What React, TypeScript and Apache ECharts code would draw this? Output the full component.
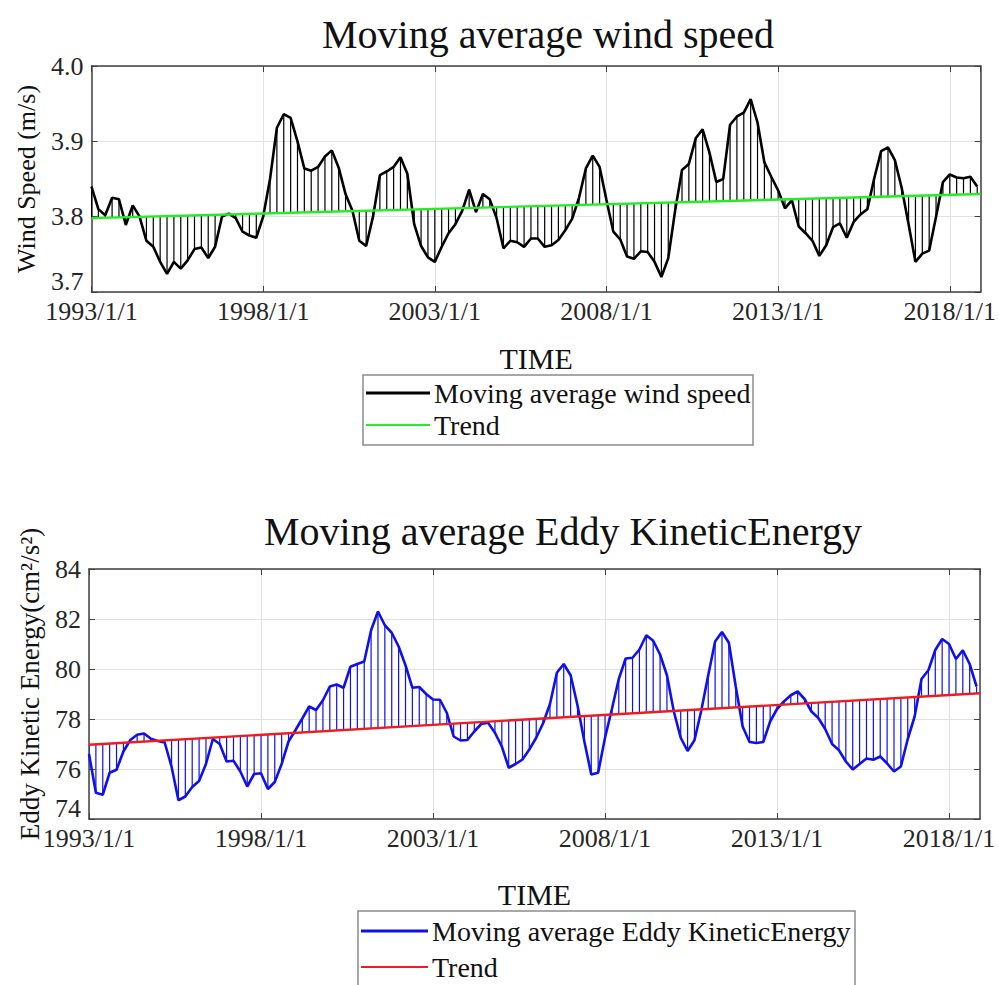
import React, { useEffect, useRef } from "react";
import * as echarts from "echarts";

// Time axis: years since 1993/1/1, one sample every 0.2 year
const START_YEAR = 1993;
const STEP_YEARS = 0.2;
const X_MAX = 25.9;
const X_TICK_YEARS = 5;
const TIME_TICK_LABELS = ["1993/1/1", "1998/1/1", "2003/1/1", "2008/1/1", "2013/1/1", "2018/1/1"];

// Moving average wind speed (m/s)
const WIND_SPEED = [
  3.84, 3.81, 3.802, 3.825, 3.823, 3.789, 3.815, 3.8, 3.768, 3.76,
  3.74, 3.724, 3.74, 3.731, 3.742, 3.757, 3.759, 3.745, 3.76, 3.8,
  3.804, 3.798, 3.78, 3.775, 3.772, 3.8, 3.85, 3.918, 3.936, 3.931,
  3.9, 3.864, 3.861, 3.866, 3.88, 3.888, 3.865, 3.83, 3.808, 3.768,
  3.761, 3.8, 3.855, 3.86, 3.866, 3.879, 3.857, 3.79, 3.761, 3.746,
  3.74, 3.76, 3.778, 3.79, 3.808, 3.836, 3.806, 3.83, 3.823, 3.798,
  3.758, 3.768, 3.766, 3.76, 3.771, 3.771, 3.76, 3.762, 3.769, 3.782,
  3.797, 3.825, 3.864, 3.881, 3.866, 3.822, 3.78, 3.77, 3.747, 3.744,
  3.754, 3.753, 3.74, 3.72, 3.745, 3.808, 3.862, 3.87, 3.904, 3.916,
  3.885, 3.846, 3.85, 3.922, 3.933, 3.938, 3.956, 3.925, 3.872, 3.853,
  3.835, 3.811, 3.822, 3.787, 3.778, 3.768, 3.748, 3.762, 3.786, 3.791,
  3.772, 3.793, 3.803, 3.81, 3.851, 3.887, 3.892, 3.875, 3.838, 3.79,
  3.74, 3.751, 3.755, 3.8, 3.846, 3.856, 3.852, 3.851, 3.853, 3.84,
];
// Linear trend of wind speed at the start and end of the time axis
const WIND_TREND = [3.798, 3.83];

// Moving average eddy kinetic energy (cm²/s²)
const EKE = [
  76.6, 75.05, 74.97, 75.85, 75.97, 76.7, 77.16, 77.37, 77.42, 77.21,
  77.12, 77.06, 76.09, 74.75, 74.9, 75.28, 75.52, 76.2, 77.2, 77.0,
  76.3, 76.33, 75.9, 75.3, 75.8, 75.83, 75.2, 75.48, 76.2, 77.1,
  77.55, 78.02, 78.5, 78.36, 78.75, 79.3, 79.38, 79.25, 80.09, 80.2,
  80.3, 81.55, 82.3, 81.75, 81.45, 80.9, 80.15, 79.25, 79.28, 79.0,
  78.78, 78.77, 78.25, 77.3, 77.14, 77.16, 77.5, 77.8, 77.85, 77.45,
  76.9, 76.05, 76.2, 76.38, 76.78, 77.25, 77.83, 78.6, 79.85, 80.2,
  79.75, 78.55, 77.1, 75.78, 75.85, 77.25, 78.4, 79.6, 80.42, 80.45,
  80.78, 81.35, 81.13, 80.58, 79.75, 78.3, 77.25, 76.72, 77.15, 78.35,
  79.75, 81.1, 81.48, 81.05, 79.3, 77.7, 77.08, 77.04, 77.08, 77.9,
  78.4, 78.7, 78.95, 79.1, 78.8, 78.3, 78.04, 77.6, 77.0, 76.75,
  76.3, 75.98, 76.2, 76.42, 76.37, 76.5, 76.22, 75.9, 76.1, 77.2,
  78.1, 79.6, 79.95, 80.76, 81.2, 81.0, 80.4, 80.75, 80.2, 79.3,
];
// Linear trend of eddy kinetic energy at the start and end of the time axis
const EKE_TREND = [76.97, 79.03];

const FONT = "'Liberation Serif', 'Times New Roman', serif";
const AXIS_COLOR = "#404040";
const GRID_COLOR = "#e2e2e2";
const TEXT_COLOR = "#262626";

type Panel = {
  title: string;
  titleX: number;
  titleTop: number;
  grid: { left: number; top: number; width: number; height: number };
  yMin: number;
  yMax: number;
  yStep: number;
  yDigits: number;
  yName: string;
  yNameGap: number;
  yNameSize: number;
  yNamePadding: number[];
  xNameGap: number;
  values: number[];
  trend: number[];
  name: string;
  lineColor: string;
  trendColor: string;
};

const PANELS: Panel[] = [
  {
    title: "Moving average wind speed",
    titleX: 548,
    titleTop: 14,
    grid: { left: 91.5, top: 66, width: 889.5, height: 226 },
    yMin: 3.7,
    yMax: 4.0,
    yStep: 0.1,
    yDigits: 1,
    yName: "Wind Speed (m/s)",
    yNameGap: 52,
    yNameSize: 26,
    yNamePadding: [0, 0, 0, 0],
    xNameGap: 51,
    values: WIND_SPEED,
    trend: WIND_TREND,
    name: "Moving average wind speed",
    lineColor: "#000000",
    trendColor: "#22ee22",
  },
  {
    title: "Moving average Eddy KineticEnergy",
    titleX: 563,
    titleTop: 511,
    grid: { left: 89, top: 569, width: 891, height: 250 },
    yMin: 74,
    yMax: 84,
    yStep: 2,
    yDigits: 0,
    yName: "Eddy Kinetic Energy(cm²/s²)",
    yNameGap: 46,
    yNameSize: 27,
    yNamePadding: [0, 0, 0, 20],
    xNameGap: 60,
    values: EKE,
    trend: EKE_TREND,
    name: "Moving average Eddy KineticEnergy",
    lineColor: "#1010e8",
    trendColor: "#ee1c1c",
  },
];

const trendAt = (trend: number[], x: number) => trend[0] + ((trend[1] - trend[0]) * x) / X_MAX;

function buildOption() {
  const grids: any[] = [];
  const xAxes: any[] = [];
  const yAxes: any[] = [];
  const series: any[] = [];
  const titles: any[] = [];

  PANELS.forEach((p, gi) => {
    grids.push({ ...p.grid, containLabel: false });
    titles.push({
      text: p.title,
      left: p.titleX,
      top: p.titleTop,
      textAlign: "center",
      padding: 0,
      textStyle: { fontFamily: FONT, fontSize: 40, fontWeight: "normal", color: "#111" },
    });

    const axisLine = { show: true, onZero: false, lineStyle: { color: AXIS_COLOR, width: 1.5 } };
    const axisTick = { show: true, inside: true, length: 6, lineStyle: { color: AXIS_COLOR, width: 1 } };
    const xBase = { type: "value", gridIndex: gi, min: 0, max: X_MAX, interval: X_TICK_YEARS };
    xAxes.push({
      ...xBase,
      position: "bottom",
      name: "TIME",
      nameLocation: "middle",
      nameGap: p.xNameGap,
      nameTextStyle: { fontFamily: FONT, fontSize: 30, color: "#111" },
      axisLine,
      axisTick,
      axisLabel: {
        fontFamily: FONT,
        fontSize: 26,
        color: TEXT_COLOR,
        margin: 6,
        showMaxLabel: false,
        formatter: (v: number) => TIME_TICK_LABELS[Math.round(v / X_TICK_YEARS)] ?? "",
      },
      splitLine: { show: true, lineStyle: { color: GRID_COLOR, width: 1 } },
    });
    xAxes.push({
      ...xBase,
      position: "top",
      axisLine,
      axisTick,
      axisLabel: { show: false },
      splitLine: { show: false },
    });

    const yBase = { type: "value", gridIndex: gi, min: p.yMin, max: p.yMax, interval: p.yStep };
    yAxes.push({
      ...yBase,
      position: "left",
      name: p.yName,
      nameLocation: "middle",
      nameGap: p.yNameGap,
      nameTextStyle: { fontFamily: FONT, fontSize: p.yNameSize, color: "#111", padding: p.yNamePadding },
      axisLine,
      axisTick,
      axisLabel: {
        fontFamily: FONT,
        fontSize: 26,
        color: TEXT_COLOR,
        margin: 8,
        // lowest label sits a little above the corner so it clears the first date
        formatter: (v: number) =>
          Math.abs(v - p.yMin) < 1e-9 ? `{lo|${v.toFixed(p.yDigits)}}` : v.toFixed(p.yDigits),
        rich: {
          lo: { fontFamily: FONT, fontSize: 26, color: TEXT_COLOR, padding: [0, 0, 22, 0] },
        },
      },
      splitLine: { show: true, lineStyle: { color: GRID_COLOR, width: 1 } },
    });
    yAxes.push({
      ...yBase,
      position: "right",
      axisLine,
      axisTick,
      axisLabel: { show: false },
      splitLine: { show: false },
    });

    const xIdx = gi * 2;
    const yIdx = gi * 2;
    const points = p.values.map((v, i) => [i * STEP_YEARS, v]);
    const hatch = points.map(([x, v]) => [x, v, trendAt(p.trend, x)]);

    // vertical hatching between the series and its trend
    series.push({
      type: "custom",
      xAxisIndex: xIdx,
      yAxisIndex: yIdx,
      clip: true,
      silent: true,
      encode: { x: 0, y: [1, 2] },
      data: hatch,
      z: 1,
      renderItem: (_params: any, api: any) => {
        const x = api.value(0);
        const a = api.coord([x, api.value(1)]);
        const b = api.coord([x, api.value(2)]);
        return {
          type: "line",
          shape: { x1: a[0], y1: a[1], x2: b[0], y2: b[1] },
          style: { stroke: p.lineColor, lineWidth: 1.2 },
        };
      },
    });
    series.push({
      type: "line",
      name: p.name,
      xAxisIndex: xIdx,
      yAxisIndex: yIdx,
      data: points,
      showSymbol: false,
      symbol: "none",
      z: 2,
      lineStyle: { color: p.lineColor, width: 2.6 },
      itemStyle: { color: p.lineColor },
    });
    series.push({
      type: "line",
      name: "Trend",
      xAxisIndex: xIdx,
      yAxisIndex: yIdx,
      data: [
        [0, p.trend[0]],
        [X_MAX, p.trend[1]],
      ],
      showSymbol: false,
      symbol: "none",
      z: 3,
      lineStyle: { color: p.trendColor, width: 2.4 },
      itemStyle: { color: p.trendColor },
    });
  });

  // legend boxes drawn below each panel
  const legendBox = (
    x: number,
    y: number,
    w: number,
    h: number,
    textX: number,
    rows: { color: string; width: number; text: string; y: number }[]
  ) => ({
    type: "group",
    children: [
      {
        type: "rect",
        shape: { x, y, width: w, height: h },
        style: { fill: "#fff", stroke: "#8a8a8a", lineWidth: 1.5 },
      },
      ...rows.flatMap((r) => [
        {
          type: "line",
          shape: { x1: x + 3, y1: r.y, x2: textX - 4, y2: r.y },
          style: { stroke: r.color, lineWidth: r.width },
        },
        {
          type: "text",
          x: textX,
          y: r.y,
          style: {
            text: r.text,
            fontFamily: FONT,
            fontSize: 28,
            fill: "#111",
            textVerticalAlign: "middle",
            textAlign: "left",
          },
        },
      ]),
    ],
  });

  const graphic = [
    legendBox(363, 375, 390, 70, 434, [
      { color: PANELS[0].lineColor, width: 3, text: PANELS[0].name, y: 393 },
      { color: PANELS[0].trendColor, width: 2, text: "Trend", y: 425 },
    ]),
    legendBox(358, 911, 497, 80, 432, [
      { color: PANELS[1].lineColor, width: 3, text: PANELS[1].name, y: 931 },
      { color: PANELS[1].trendColor, width: 2, text: "Trend", y: 967 },
    ]),
  ];

  return {
    animation: false,
    backgroundColor: "#ffffff",
    title: titles,
    grid: grids,
    xAxis: xAxes,
    yAxis: yAxes,
    series,
    graphic,
  };
}

export default function App() {
  const ref = useRef<HTMLDivElement>(null);
  useEffect(() => {
    if (!ref.current) return;
    const chart = echarts.init(ref.current, undefined, { renderer: "svg" });
    chart.setOption(buildOption() as any);
    return () => chart.dispose();
  }, []);
  return (
    <div
      ref={ref}
      style={{ position: "fixed", left: 0, top: 0, width: 999, height: 985, background: "#fff" }}
    />
  );
}
